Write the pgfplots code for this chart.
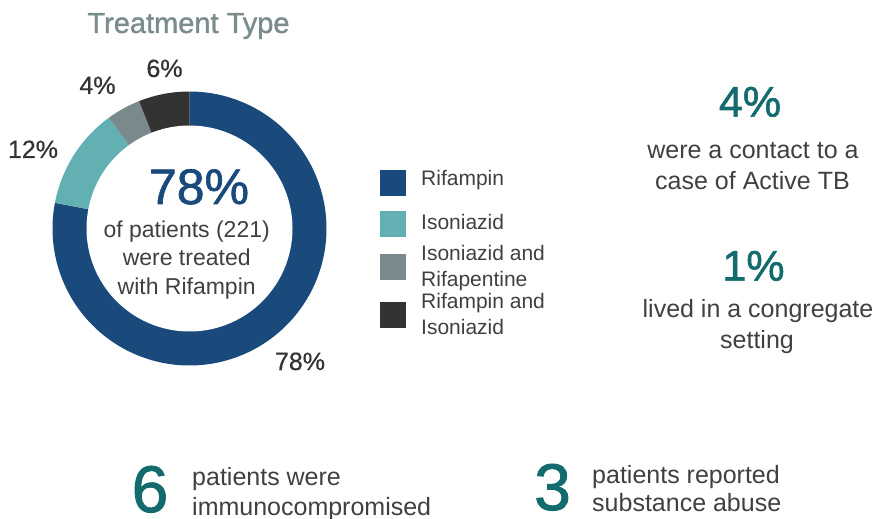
\documentclass[border=0pt]{standalone}
\usepackage{pgfplots}
\pgfplotsset{compat=1.18}
\usepackage{pgfplotstable}
\usepackage{fontspec}
\setmainfont{Liberation Sans}
\newfontfamily\medium[FakeBold=1.3]{Liberation Sans}
\newfontfamily\semi[FakeBold=0.6]{Liberation Sans}
\definecolor{rif}{HTML}{1A4A7C}
\definecolor{iso}{HTML}{62B0B1}
\definecolor{isorp}{HTML}{7A8A8C}
\definecolor{rifiso}{HTML}{333333}
\definecolor{accent}{HTML}{146B6E}
\definecolor{titlec}{HTML}{7B8C8D}
\definecolor{txt}{HTML}{404040}
\newcommand\fs[1]{\fontsize{#1bp}{#1bp}\selectfont}

\pgfplotstableread{
name value
Rifampin 78
Isoniazid 12
IsoRifapentine 4
RifIso 6
}\treat

\begin{document}
\begin{tikzpicture}[x=1bp,y=-1bp]
\useasboundingbox (0,0) rectangle (873,519);
\pgfplotstablegetelem{0}{value}\of\treat \edef\va{\pgfplotsretval}
\pgfplotstablegetelem{1}{value}\of\treat \edef\vb{\pgfplotsretval}
\pgfplotstablegetelem{2}{value}\of\treat \edef\vc{\pgfplotsretval}
\pgfplotstablegetelem{3}{value}\of\treat \edef\vd{\pgfplotsretval}
\pgfmathsetmacro\aA{90}
\pgfmathsetmacro\aB{\aA-3.6*\va}
\pgfmathsetmacro\aC{\aB-3.6*\vb}
\pgfmathsetmacro\aD{\aC-3.6*\vc}
\pgfmathsetmacro\aE{\aD-3.6*\vd}
\begin{axis}[at={(189.5bp,-228.5bp)}, anchor=origin, x=1bp, y=1bp,
  xmin=-140, xmax=140, ymin=-140, ymax=140, hide axis, clip=false]
\addplot[fill=rif, draw=none, domain=\aB:\aA, samples=220, variable=\t]
  ({137*cos(\t)},{137*sin(\t)}) -- (axis cs:0,0) -- cycle;
\addplot[fill=iso, draw=none, domain=\aC:\aB, samples=60, variable=\t]
  ({137*cos(\t)},{137*sin(\t)}) -- (axis cs:0,0) -- cycle;
\addplot[fill=isorp, draw=none, domain=\aD:\aC, samples=30, variable=\t]
  ({137*cos(\t)},{137*sin(\t)}) -- (axis cs:0,0) -- cycle;
\addplot[fill=rifiso, draw=none, domain=\aE:\aD, samples=30, variable=\t]
  ({137*cos(\t)},{137*sin(\t)}) -- (axis cs:0,0) -- cycle;
\addplot[fill=white, draw=none, domain=0:360, samples=200, variable=\t]
  ({103*cos(\t)},{103*sin(\t)}) -- cycle;
\end{axis}

% title
\node[anchor=base, inner sep=0, text=titlec] at (188.5,33) {\fs{29}\medium Treatment Type};
% slice labels
\node[anchor=base, inner sep=0, text=rifiso] at (164.5,77) {\fs{25}\semi 6\%};
\node[anchor=base, inner sep=0, text=rifiso] at (97.5,94) {\fs{25}\semi 4\%};
\node[anchor=base, inner sep=0, text=rifiso] at (33,158) {\fs{25}\semi 12\%};
\node[anchor=base, inner sep=0, text=rifiso] at (300,370) {\fs{25}\semi 78\%};
% centre
\node[anchor=base, inner sep=0, text=rif] at (199,204) {\fs{50}\medium 78\%};
\node[anchor=base, inner sep=0, text=txt] at (186.7,238) {\fs{23}of patients (221)};
\node[anchor=base, inner sep=0, text=txt] at (186.7,266) {\fs{23}were treated};
\node[anchor=base, inner sep=0, text=txt] at (186.7,295) {\fs{23}with Rifampin};
% legend
\fill[rif] (380,170) rectangle (406,196);
\fill[iso] (380,211) rectangle (406,237);
\fill[isorp] (380,254) rectangle (406,280);
\fill[rifiso] (380,302) rectangle (406,328);
\node[anchor=base west, inner sep=0, text=txt] at (421,186) {\fs{21}Rifampin};
\node[anchor=base west, inner sep=0, text=txt] at (421,230) {\fs{21}Isoniazid};
\node[anchor=base west, inner sep=0, text=txt] at (421,261) {\fs{21}Isoniazid and};
\node[anchor=base west, inner sep=0, text=txt] at (421,286.5) {\fs{21}Rifapentine};
\node[anchor=base west, inner sep=0, text=txt] at (421,309) {\fs{21}Rifampin and};
\node[anchor=base west, inner sep=0, text=txt] at (421,335) {\fs{21}Isoniazid};
% right column
\node[anchor=base, inner sep=0, text=accent] at (750,116.7) {\fs{43}\medium 4\%};
\node[anchor=base, inner sep=0, text=txt] at (753,159) {\fs{25}were a contact to a};
\node[anchor=base, inner sep=0, text=txt] at (752.5,190) {\fs{25}case of Active TB};
\node[anchor=base, inner sep=0, text=accent] at (753.5,280.7) {\fs{43}\medium 1\%};
\node[anchor=base, inner sep=0, text=txt] at (758,318) {\fs{25}lived in a congregate};
\node[anchor=base, inner sep=0, text=txt] at (757,349) {\fs{25}setting};
% bottom
\node[anchor=base, inner sep=0, text=accent] at (150,512) {\fs{66}\medium 6};
\node[anchor=base west, inner sep=0, text=txt] at (192,485) {\fs{25}patients were};
\node[anchor=base west, inner sep=0, text=txt] at (192,515) {\fs{25}immunocompromised};
\node[anchor=base, inner sep=0, text=accent] at (552.5,510) {\fs{66}\medium 3};
\node[anchor=base west, inner sep=0, text=txt] at (592,483) {\fs{25}patients reported};
\node[anchor=base west, inner sep=0, text=txt] at (592,511) {\fs{25}substance abuse};
\end{tikzpicture}
\end{document}
